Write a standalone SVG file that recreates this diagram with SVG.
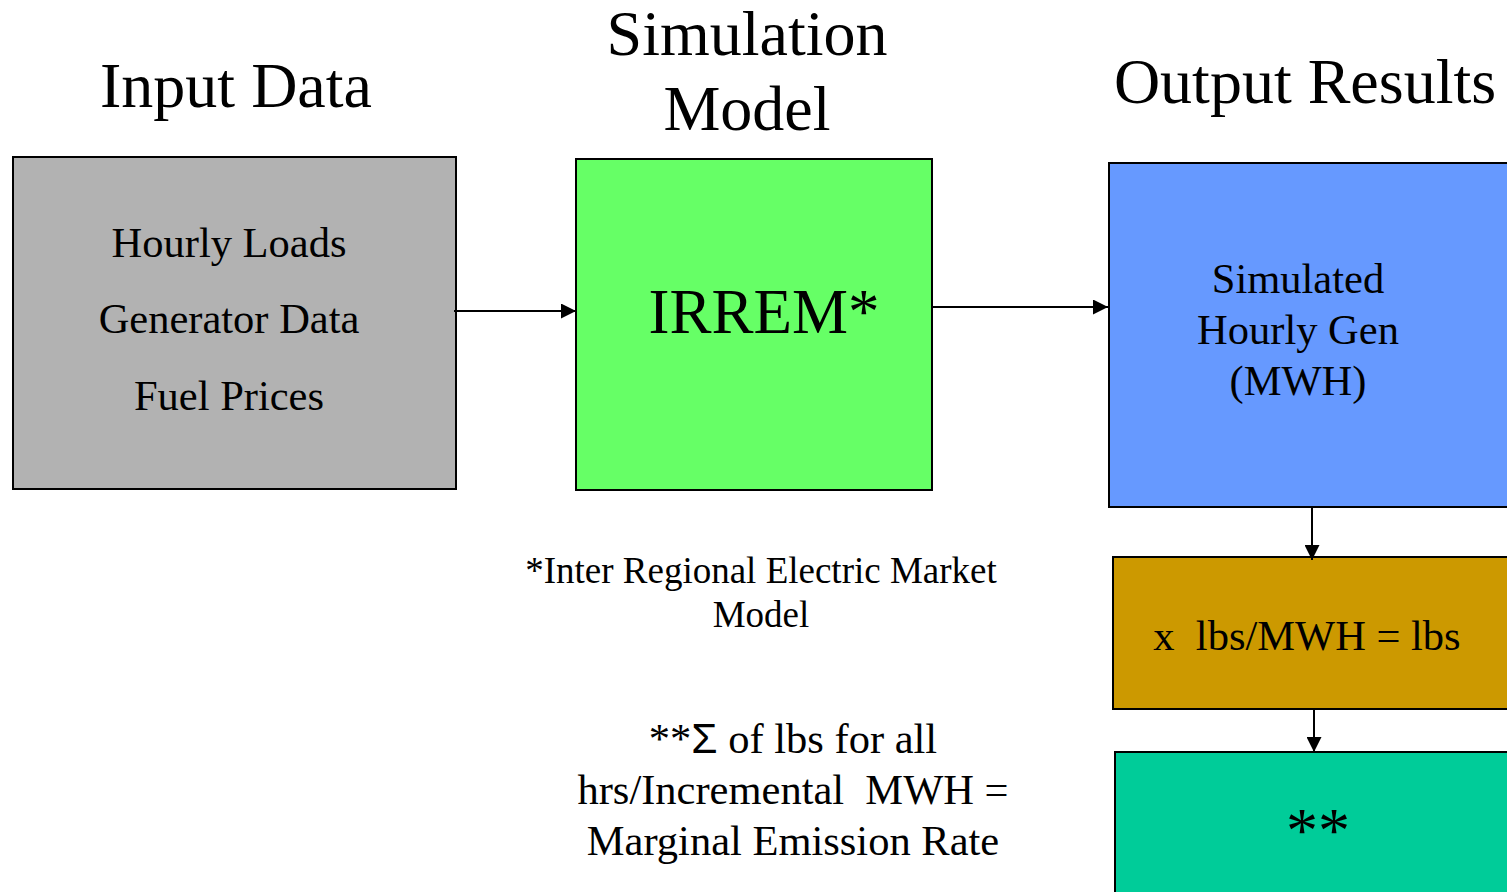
<svg xmlns="http://www.w3.org/2000/svg" width="1507" height="892" viewBox="0 0 1507 892">
<style>
  text { font-family: "Liberation Serif", "Times New Roman", serif; fill: #000; text-anchor: middle; white-space: pre; }
  .title { font-size: 64px; }
  .body { font-size: 42.5px; }
  .note { font-size: 37px; }
  .box { stroke: #000; stroke-width: 2; }
  .conn { stroke: #000; stroke-width: 2; fill: none; }
</style>
<defs>
  <marker id="arr" viewBox="0 0 10 10" refX="10" refY="5" markerWidth="15" markerHeight="15" markerUnits="userSpaceOnUse" orient="auto">
    <path d="M0,0 L10,5 L0,10 z" fill="#000"/>
  </marker>
</defs>
<rect width="1507" height="892" fill="#fff"/>

<g id="titles">
  <text class="title" x="236" y="107">Input Data</text>
  <text class="title" x="747" y="55">Simulation</text>
  <text class="title" x="747" y="130">Model</text>
  <text class="title" x="1305" y="103">Output Results</text>
</g>

<g id="input-data">
  <rect class="box" x="13" y="157" width="443" height="332" fill="#B2B2B2"/>
  <text class="body" x="229" y="257">Hourly Loads</text>
  <text class="body" x="229" y="333">Generator Data</text>
  <text class="body" x="229" y="410">Fuel Prices</text>
</g>

<g id="irrem">
  <rect class="box" x="576" y="159" width="356" height="331" fill="#66FF66"/>
  <text x="764" y="333" style="font-size:63px">IRREM*</text>
</g>

<g id="simulated-gen">
  <rect class="box" x="1109" y="163" width="410" height="344" fill="#6699FF"/>
  <text class="body" x="1298" y="293">Simulated</text>
  <text class="body" x="1298" y="344">Hourly Gen</text>
  <text class="body" x="1298" y="395">(MWH)</text>
</g>

<g id="lbs">
  <rect class="box" x="1113" y="557" width="410" height="152" fill="#CC9900"/>
  <text class="body" x="1307" y="650">x  lbs/MWH = lbs</text>
</g>

<g id="rate">
  <rect class="box" x="1115" y="752" width="410" height="160" fill="#00CC99"/>
  <text x="1318" y="852" style="font-size:64px">**</text>
</g>

<g id="footnote-irrem">
  <text class="note" x="761" y="583">*Inter Regional Electric Market</text>
  <text class="note" x="761" y="627">Model</text>
</g>

<g id="footnote-rate">
  <text class="body" x="793" y="753">**<tspan style="font-family:'Liberation Sans', Arial, sans-serif">Σ</tspan> of lbs for all</text>
  <text class="body" x="793" y="804">hrs/Incremental  MWH =</text>
  <text class="body" x="793" y="855">Marginal Emission Rate</text>
</g>

<g id="connectors">
  <line class="conn" x1="454" y1="311" x2="576" y2="311" marker-end="url(#arr)"/>
  <line class="conn" x1="932" y1="307" x2="1108" y2="307" marker-end="url(#arr)"/>
  <line class="conn" x1="1312" y1="507" x2="1312" y2="560" marker-end="url(#arr)"/>
  <line class="conn" x1="1314" y1="709" x2="1314" y2="752" marker-end="url(#arr)"/>
</g>
</svg>
